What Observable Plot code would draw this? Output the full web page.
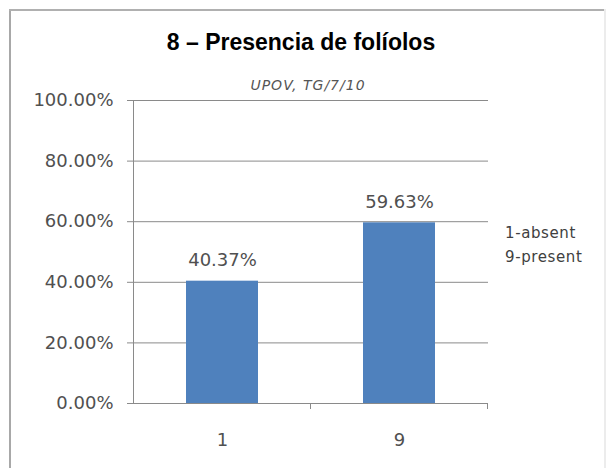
<!DOCTYPE html>
<html><head><meta charset="utf-8">
<script src="https://cdn.jsdelivr.net/npm/d3@7"></script>
<script src="https://cdn.jsdelivr.net/npm/@observablehq/plot@0.6"></script>
<style>
body{margin:0;background:#fff;}
#wrap{position:relative;width:613px;height:468px;overflow:hidden;font-family:"DejaVu Sans",sans-serif;background:#fff;}
#chart{position:absolute;left:0;top:0;}
.bl{position:absolute;left:9px;top:9px;width:2px;height:470px;background:#a8a8a8;}
.bt{position:absolute;left:9px;top:9px;width:597px;height:2px;background:#b0b0b0;}
.br{position:absolute;left:604px;top:9px;width:2px;height:470px;background:#ececec;}
#title{position:absolute;left:0;top:28px;width:602px;text-align:center;font:bold 23px "Liberation Sans",Arial,sans-serif;line-height:28px;color:#000;}
#subtitle{position:absolute;left:0;top:76px;width:616px;text-align:center;font:italic 14px "DejaVu Sans",sans-serif;letter-spacing:1px;line-height:18px;color:#555;}
#legend{position:absolute;left:505px;top:221px;font:15px "DejaVu Sans",sans-serif;letter-spacing:0.6px;line-height:24px;color:#404040;}
#chart svg [aria-label="y-axis tick"]{stroke:#8a8a8a;}
</style></head><body>
<div id="wrap">
 <div id="chart"></div>
 <div class="bl"></div><div class="bt"></div><div class="br"></div>
 <div id="title">8 – Presencia de folíolos</div>
 <div id="subtitle">UPOV, TG/7/10</div>
 <div id="legend"></div>
</div>
<script>
const categories = ["1", "9"];
const shares = [0.4037, 0.5963];
const yTicks = [0, 0.2, 0.4, 0.6, 0.8, 1.0];
const legendLines = ["1-absent", "9-present"];

const data = categories.map((c, i) => ({cat: c, value: shares[i]}));
const pct = d3.format(".2%");

const legend = document.getElementById("legend");
legendLines.forEach(t => { const d = document.createElement("div"); d.textContent = t; legend.appendChild(d); });

const plot = Plot.plot({
  width: 613, height: 468,
  marginLeft: 133, marginRight: 125, marginTop: 100, marginBottom: 65,
  style: {fontFamily: "DejaVu Sans, sans-serif", fontSize: "18px", color: "#505050", background: "transparent"},
  x: {domain: categories, paddingInner: 0.594, paddingOuter: 0.297, label: null},
  y: {domain: [0, 1], ticks: yTicks, label: null},
  marks: [
    Plot.gridY(yTicks, {stroke: "#8a8a8a", strokeOpacity: 1}),
    Plot.barY(data, {x: "cat", y: "value", fill: "#4F81BD"}),
    Plot.ruleY([0], {stroke: "#8a8a8a"}),
    Plot.frame({anchor: "left", stroke: "#8a8a8a"}),
    Plot.axisY(yTicks, {tickFormat: pct, tickSize: 6, tickPadding: 14, label: null, fontSize: 18}),
    Plot.axisX({tickSize: 0, tickPadding: 30, label: null, fontSize: 18}),
    Plot.text(data, {x: "cat", y: "value", text: d => pct(d.value), dy: -21, fontSize: 18, fill: "#505050"})
  ]
});
document.getElementById("chart").appendChild(plot);

// category boundary tick marks below the x axis, positioned from the x scale
const xs = plot.scale("x");
const ys = plot.scale("y");
const svg = d3.select(plot);
const y0 = ys.apply(0);
categories.forEach(c => {
  const xb = xs.apply(c) + xs.bandwidth / 2 + xs.step / 2;
  svg.append("line").attr("x1", xb).attr("x2", xb).attr("y1", y0).attr("y2", y0 + 6)
    .attr("stroke", "#8a8a8a");
});
</script>
</body></html>
